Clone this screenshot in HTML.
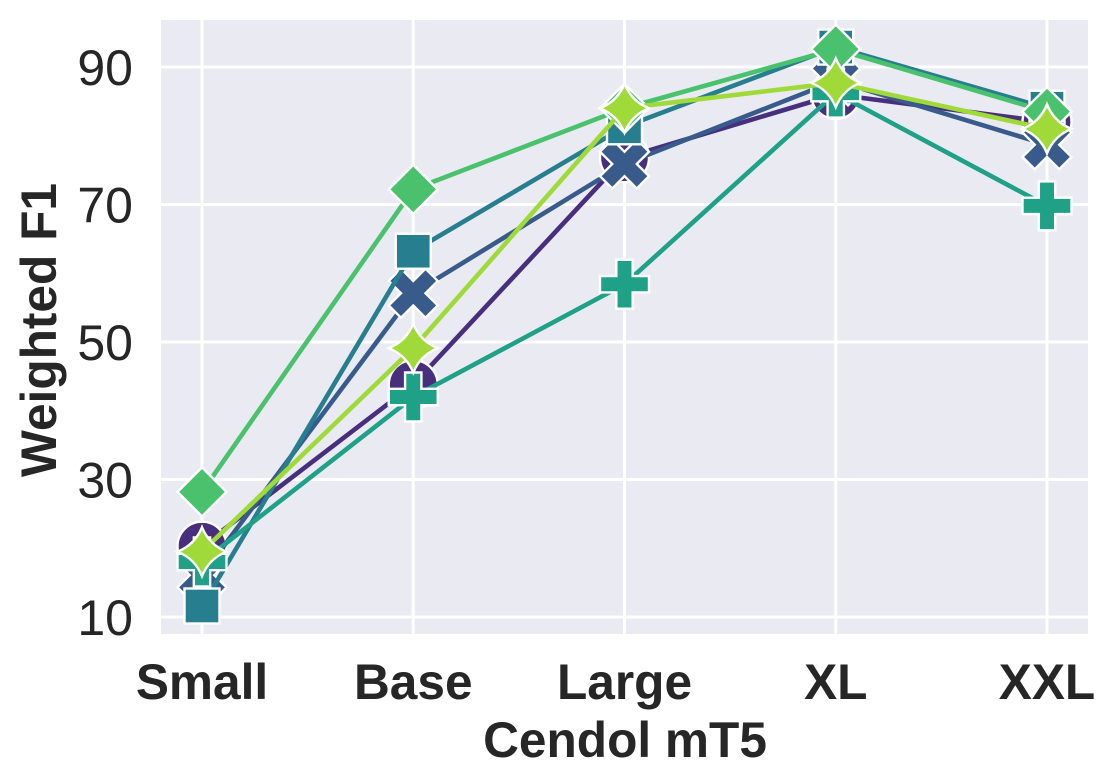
<!DOCTYPE html>
<html>
<head>
<meta charset="utf-8">
<title>Weighted F1 by Cendol mT5 size</title>
<style>
html,body{margin:0;padding:0;background:#fff;width:1116px;height:774px;overflow:hidden}
svg{display:block}
text{font-family:"Liberation Sans",Arial,sans-serif;fill:#262626}
</style>
</head>
<body>
<svg id="chart" width="1116" height="774" viewBox="0 0 1116 774" xmlns="http://www.w3.org/2000/svg"></svg>
<script>
const categories = ["Small", "Base", "Large", "XL", "XXL"];
const yTicks = [10, 30, 50, 70, 90];
const circleValues = [20.3, 43.8, 76.8, 86, 82];
const crossValues = [16.1, 57.1, 75.9, 88, 78.7];
const squareValues = [11.6, 63.2, 81.3, 92.9, 84];
const plusValues = [18, 42, 58.4, 86.2, 69.8];
const diamondValues = [28.2, 72.2, 84, 92.6, 83.5];
const starValues = [19.5, 49.1, 84, 87.7, 81];
const seriesNames = ["circle", "cross", "square", "plus", "diamond", "star"];
const seriesValues = [circleValues, crossValues, squareValues, plusValues, diamondValues, starValues];
const seriesColors = ["#472f7d", "#385b8c", "#277e8e", "#1fa187", "#4ac16d", "#a0da39"];

const NS = "http://www.w3.org/2000/svg";
const svg = document.getElementById("chart");
const plot = {left: 161, right: 1088, top: 20, bottom: 634};
function xScale(i) { return 202 + i * 211.25; }
function yScale(v) { return 617 - (v - 10) * 6.875; }
function make(tag, attrs, parent) {
  const el = document.createElementNS(NS, tag);
  for (const k in attrs) el.setAttribute(k, attrs[k]);
  (parent || svg).appendChild(el);
  return el;
}
function poly(points, u) {
  return points.map(p => (p[0] * u).toFixed(2) + "," + (p[1] * u).toFixed(2)).join(" ");
}
const R = 24.5;
function drawMarker(kind, cx, cy, color, parent) {
  const style = {fill: color, stroke: "#fff", "stroke-width": 2.4, "stroke-linejoin": "miter"};
  const g = make("g", {transform: "translate(" + cx + "," + cy + ")"}, parent);
  if (kind === "circle") {
    make("circle", Object.assign({cx: 0, cy: 0, r: R}, style), g);
  } else if (kind === "cross") {
    make("polygon", Object.assign({points: poly([[-1,-2],[0,-1],[1,-2],[2,-1],[1,0],[2,1],[1,2],[0,1],[-1,2],[-2,1],[-1,0],[-2,-1]], R / 2)}, style), g);
  } else if (kind === "square") {
    make("rect", Object.assign({x: -17.5, y: -17.5, width: 35, height: 35}, style), g);
  } else if (kind === "plus") {
    make("polygon", Object.assign({points: poly([[-1,-3],[1,-3],[1,-1],[3,-1],[3,1],[1,1],[1,3],[-1,3],[-1,1],[-3,1],[-3,-1],[-1,-1]], R / 3)}, style), g);
  } else if (kind === "diamond") {
    make("polygon", Object.assign({points: poly([[0,-1],[1,0],[0,1],[-1,0]], R)}, style), g);
  } else {
    const c = 7;
    const d = "M0," + (-R) + " Q" + c + "," + (-c) + " " + R + ",0 Q" + c + "," + c + " 0," + R +
              " Q" + (-c) + "," + c + " " + (-R) + ",0 Q" + (-c) + "," + (-c) + " 0," + (-R) + "Z";
    make("path", Object.assign({d: d}, style), g);
  }
  return g;
}

const bg = make("rect", {x: plot.left, y: plot.top, width: plot.right - plot.left, height: plot.bottom - plot.top, fill: "#eaeaf2"});



yTicks.forEach(function (t) {
  const y = yScale(t);
  const grid = make("line", {x1: plot.left, x2: plot.right, y1: y, y2: y, stroke: "#fff", "stroke-width": 3});
  
  
  const label = make("text", {x: 133, y: y + 18, "text-anchor": "end", "font-size": 50});
  label.textContent = t;
  
  
});

categories.forEach(function (c, i) {
  const x = xScale(i);
  const grid = make("line", {x1: x, x2: x, y1: plot.top, y2: plot.bottom, stroke: "#fff", "stroke-width": 3});
  
  
  const label = make("text", {x: x, y: 699, "text-anchor": "middle", "font-size": 49.6, "font-weight": "bold"});
  label.textContent = c;
  
  
});

seriesValues.forEach(function (vals, s) {
  const g = make("g", {});
  
  
  const line = make("polyline", {
    points: vals.map((v, i) => xScale(i) + "," + yScale(v)).join(" "),
    fill: "none", stroke: seriesColors[s], "stroke-width": 4.6, "stroke-linejoin": "round"
  }, g);
  
  
  vals.forEach(function (v, i) {
    const m = drawMarker(seriesNames[s], xScale(i), yScale(v), seriesColors[s], g);
    
    
  });
});
</script>
<!-- axis titles -->
<script>
const xTitle = make("text", {x: 625, y: 757, "text-anchor": "middle", "font-size": 49.6, "font-weight": "bold"});
xTitle.textContent = "Cendol mT5";


const yTitle = make("text", {x: 0, y: 0, transform: "translate(56,330) rotate(-90)", "text-anchor": "middle", "font-size": 49.6, "font-weight": "bold"});
yTitle.textContent = "Weighted F1";


</script>
</body>
</html>
